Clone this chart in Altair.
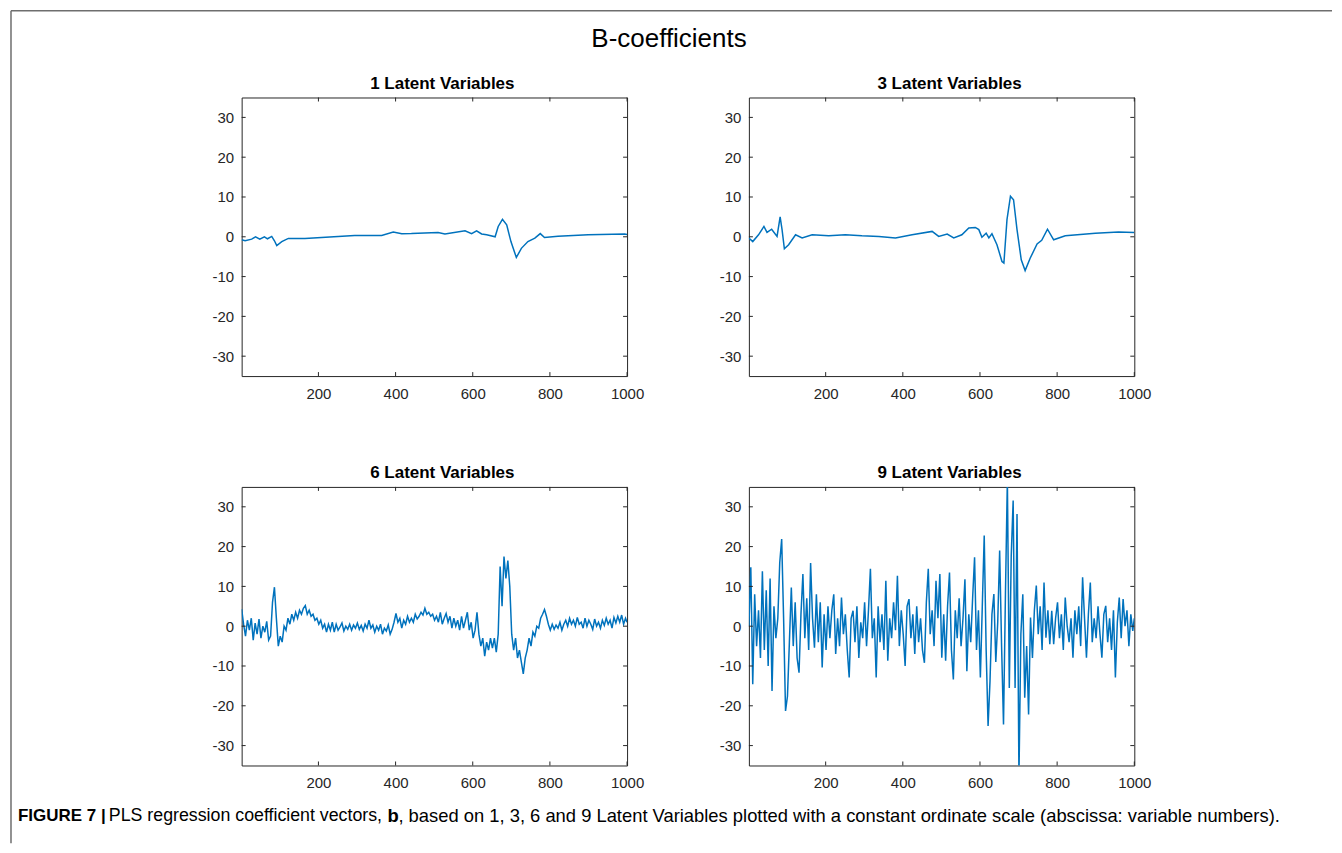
import altair as alt
import pandas as pd

# ---------------- data ----------------
lv1_x = [1, 10, 27, 37, 48, 60, 68, 79, 86, 92,
         105, 122, 165, 251, 294, 364, 394, 416, 441, 510,
         528, 580, 597, 610, 623, 636, 658, 666, 677, 688,
         699, 713, 726, 743, 761, 775, 786, 821, 899, 994, 1000]
lv1_y = [-0.75, -1.0, -0.6, 0.0, -0.6, 0.0, -0.5, 0.1, -1.0, -2.2,
         -1.2, -0.4, -0.4, 0.1, 0.35, 0.35, 1.2, 0.75, 0.8, 1.1,
         0.7, 1.5, 0.8, 1.5, 0.7, 0.5, 0.0, 2.6, 4.4, 3.0,
         -1.2, -5.2, -2.9, -1.2, -0.35, 0.8, -0.2, 0.15, 0.5, 0.7, 0.6]

lv3_x = [1, 11, 26, 40, 48, 60, 74, 82, 87, 93,
         104, 122, 139, 165, 208, 251, 294, 338, 381, 424,
         476, 493, 515, 532, 553, 571, 588, 597, 605, 616,
         623, 631, 644, 657, 662, 670, 679, 687, 696, 707,
         717, 730, 748, 760, 775, 791, 821, 899, 959, 1000]
lv3_y = [-0.3, -1.2, 0.5, 2.6, 1.1, 1.9, 0.1, 5.0, 1.8, -3.0,
         -2.0, 0.5, -0.3, 0.5, 0.25, 0.5, 0.25, 0.1, -0.3, 0.5,
         1.35, 0.1, 0.7, -0.3, 0.5, 2.2, 2.35, 1.8, -0.1, 0.9,
         -0.3, 0.75, -2.0, -6.2, -6.6, 4.3, 10.2, 9.3, 1.8, -5.8,
         -8.5, -5.4, -1.8, -0.9, 1.9, -0.75, 0.25, 0.9, 1.2, 1.1]

# variable numbers sampled every 5 for the noisy panels
dense_x = list(range(1, 1000, 5)) + [1000]

lv6_y = [4.3, 0.5, -2.5, 1.5, -1.0, 2.0, -3.5, 0.8, -2.0, 1.8,
         -3.0, 0.0, -1.5, 1.2, -3.5, -2.5, 6.0, 9.8, 2.0, -5.0,
         -2.5, -4.0, 0.0, -1.0, 2.0, 0.5, 3.0, 1.5, 3.5, 2.0,
         4.0, 3.0, 4.5, 5.2, 3.0, 4.0, 2.5, 3.0, 1.5, 2.0,
         0.5, 1.5, -0.5, 0.5, -1.5, 0.5, -1.0, 1.0, -1.5, 0.5,
         -1.0, -0.2, 0.8, -1.2, 0.0, -0.8, 0.5, -1.0, 0.3, -0.5,
         0.8, -0.8, 0.2, -1.2, 0.5, -0.5, 1.5, -0.5, 0.3, -1.5,
         0.0, -1.0, 0.5, -2.0, -0.5, -1.2, 0.3, -2.0, -0.8, 1.0,
         3.2, 1.0, 2.0, -0.5, 1.5, 0.5, 2.5, 1.0, 2.0, 1.0,
         3.0, 1.8, 2.5, 3.5, 2.8, 4.5, 3.0, 3.5, 2.5, 3.0,
         1.5, 2.5, 1.0, 3.5, 0.5, 2.0, 3.2, 1.0, 2.5, -0.5,
         2.0, 0.0, 1.5, -1.0, 2.5, -0.5, 1.5, 3.5, -1.0, 1.0,
         -3.0, -1.0, 3.5, -2.0, -5.0, -3.0, -7.5, -4.0, -6.0, -3.0,
         -5.5, -3.0, -6.5, -2.0, 15.0, 5.0, 17.5, 12.0, 16.5, 10.0,
         -2.0, -6.0, -3.0, -8.0, -6.0, -9.0, -12.0, -8.0, -6.0, -3.0,
         -5.0, -1.5, -2.5, 0.0, -0.5, 2.0, 3.0, 4.2, 2.5, 0.5,
         -1.0, 0.5, -0.8, 0.3, -0.5, 1.0, -1.0, 0.5, 1.5, 0.0,
         2.0, 0.5, 1.5, 0.0, 2.2, 0.5, 1.0, -0.5, 2.0, 0.0,
         1.5, 0.5, -0.8, 1.8, 0.0, 1.0, -0.5, 1.5, 0.2, 2.0,
         0.5, 1.5, -0.5, 2.2, 0.8, 2.5, 1.0, 2.8, 0.5, 2.0,
         1.0]

lv9_y = [0.0, 14.8, -14.6, 8.0, -5.0, 4.0, -8.0, 13.8, -6.0, 9.0,
         -10.0, 12.0, -16.3, 5.0, -3.0, 2.0, 16.0, 21.9, 2.0, -21.3,
         -17.6, -4.0, 9.7, -5.0, 6.0, -8.0, -11.7, 3.0, 13.1, -3.0,
         7.0, -6.0, 15.9, 2.0, -5.4, 8.0, -4.0, 6.0, -10.4, 3.0,
         -6.0, 5.0, -3.0, 4.0, 8.0, -7.0, 2.0, -5.0, 7.2, -2.0,
         3.0, -6.0, -12.9, 2.0, 3.9, -4.0, 5.0, -8.0, 1.0, -3.0,
         6.0, -5.0, 4.0, 14.4, -3.0, 2.0, -12.9, 5.0, -4.0, 3.0,
         -6.0, 11.4, -8.7, 2.0, -3.0, 6.0, -1.0, 12.7, -5.0, 4.0,
         -2.0, -10.0, 5.0, 6.8, -3.0, 3.0, -7.0, 5.0, -4.0, 2.0,
         -6.0, -9.2, 6.0, 14.4, -2.0, 4.0, -5.0, 11.4, 2.0, 13.1,
         -7.9, 3.0, -8.7, 5.0, 13.5, -6.0, -13.4, 4.0, -3.0, 7.0,
         -5.0, 2.0, 11.8, -11.3, 3.0, -4.0, 7.2, 17.3, -6.0, 4.0,
         -12.9, 5.0, 22.8, -6.0, -25.1, -13.8, 3.0, 8.1, -9.0, 1.0,
         19.0, -5.0, -24.7, 8.0, 37.0, -15.5, 17.7, 31.6, -15.5, 28.2,
         -38.0, -2.0, 8.0, -18.0, -5.0, -22.2, 2.2, -8.0, 4.0, 10.2,
         -2.0, 5.0, -6.0, 11.0, -2.9, 4.0, -4.5, 3.9, -4.5, 2.0,
         6.0, -3.0, 3.0, -6.0, 7.2, 0.0, -4.0, 2.0, -7.9, 4.0,
         -2.0, 5.0, -5.0, 12.3, 2.0, -7.9, 3.0, 11.0, -4.0, 2.0,
         -3.0, 5.0, -2.0, -7.9, 3.0, 5.1, -4.0, 2.0, -6.0, 4.0,
         -12.9, 1.0, 7.2, -3.0, 6.8, 0.0, 4.0, -5.0, 3.0, -1.2,
         2.0]

panel_titles = ["1 Latent Variables", "3 Latent Variables",
                "6 Latent Variables", "9 Latent Variables"]
x_ticks = [200, 400, 600, 800, 1000]
y_ticks = [-30, -20, -10, 0, 10, 20, 30]
x_domain = [1, 1000]
y_domain = [-35, 35]

main_title = "B-coefficients"
caption_parts = ["FIGURE 7 |", "PLS regression coefficient vectors,", "b",
                 ", based on 1, 3, 6 and 9 Latent Variables plotted with a constant "
                 "ordinate scale (abscissa: variable numbers)."]

# ---------------- styling ----------------
FONT = "Liberation Sans"
BLUE = "#0072BD"
AX = "#262626"
PW, PH = 386, 279
TICK = 4
LEFT = 111        # spacer column width (plot left edge = LEFT + column spacing)
COLGAP = 122
ROWGAP = 111
TOP = 89          # distance from canvas top to first row of plots

xscale = alt.Scale(domain=x_domain, nice=False, zero=False)
yscale = alt.Scale(domain=y_domain, nice=False, zero=False)
xaxis = alt.Axis(values=x_ticks, tickSize=0, domain=False, grid=False,
                 labelFontSize=15, labelFont=FONT, labelColor=AX,
                 labelPadding=10, labelFlush=False, title=None,
                 labelExpr="'' + datum.value")
yaxis = alt.Axis(values=y_ticks, tickSize=0, domain=False, grid=False,
                 labelFontSize=15, labelFont=FONT, labelColor=AX,
                 labelPadding=8, labelFlush=False, title=None,
                 labelExpr="'' + datum.value")

xt_df = pd.DataFrame({"t": x_ticks})
yt_df = pd.DataFrame({"t": y_ticks})
no_stroke = alt.ViewBackground(stroke="transparent")
one = pd.DataFrame({"a": [0]})


def panel(xs, ys, title):
    df = pd.DataFrame({"x": xs, "y": ys})
    line = alt.Chart(df).mark_line(color=BLUE, strokeWidth=1.5, clip=True).encode(
        x=alt.X("x:Q", scale=xscale, axis=xaxis),
        y=alt.Y("y:Q", scale=yscale, axis=yaxis))
    tx = alt.X("t:Q", scale=xscale, axis=xaxis)
    ty = alt.Y("t:Q", scale=yscale, axis=yaxis)
    rule = dict(color=AX, strokeWidth=1)
    bottom = alt.Chart(xt_df).mark_rule(**rule).encode(
        x=tx, y=alt.value(PH), y2=alt.value(PH - TICK))
    top = alt.Chart(xt_df).mark_rule(**rule).encode(
        x=tx, y=alt.value(0), y2=alt.value(TICK))
    left = alt.Chart(yt_df).mark_rule(**rule).encode(
        y=ty, x=alt.value(0), x2=alt.value(TICK))
    right = alt.Chart(yt_df).mark_rule(**rule).encode(
        y=ty, x=alt.value(PW), x2=alt.value(PW - TICK))
    return alt.layer(line, bottom, top, left, right).properties(
        width=PW, height=PH,
        title=alt.TitleParams(text=title, font=FONT, fontSize=17, fontWeight="bold",
                              color="black", frame="group", anchor="middle",
                              dx=8, offset=4))


pA = panel(lv1_x, lv1_y, panel_titles[0])
pB = panel(lv3_x, lv3_y, panel_titles[1])
pC = panel(dense_x, lv6_y, panel_titles[2])
pD = panel(dense_x, lv9_y, panel_titles[3])

# ---- spacer cell of row 1: figure title and frame (drawn above the cell) ----
FRAME = "#6e6e6e"
head_text = alt.Chart(one).mark_text(text=main_title, font=FONT, fontSize=26,
                                     color="black", align="center", baseline="middle").encode(
    x=alt.value(661), y=alt.value(30 - TOP))
frame_top = alt.Chart(one).mark_rule(color=FRAME, strokeWidth=1.5).encode(
    x=alt.value(2), x2=alt.value(1325), y=alt.value(2 - TOP))
frame_left = alt.Chart(one).mark_rule(color=FRAME, strokeWidth=1.5).encode(
    x=alt.value(2), y=alt.value(2 - TOP), y2=alt.value(836 - TOP))
edge = alt.Chart(one).mark_rule(strokeOpacity=0, strokeWidth=1).encode(
    x=alt.value(20), x2=alt.value(40), y=alt.value(0.5 - TOP))
sp1 = alt.layer(head_text, frame_top, frame_left, edge).properties(
    width=LEFT, height=PH, view=no_stroke)

# ---- spacer cell of row 2: caption (drawn below the cell) ----
row2_top = TOP + PH + ROWGAP
CAP_Y = 809 - row2_top
cap_xs = [9, 100, 379, 390]
cap_bold = [True, False, True, False]
cap_fs = [17, 17.8, 18.4, 18.4]
cap_layers = []
for txt, cx, b, fs in zip(caption_parts, cap_xs, cap_bold, cap_fs):
    cap_layers.append(alt.Chart(one).mark_text(
        text=txt, font=FONT, fontSize=fs, fontWeight="bold" if b else "normal",
        color="black", align="left", baseline="middle").encode(
        x=alt.value(cx), y=alt.value(CAP_Y)))
sp2 = alt.layer(*cap_layers).properties(width=LEFT, height=PH, view=no_stroke)

chart = alt.concat(sp1, pA, pB, sp2, pC, pD, columns=3,
                   spacing={"row": ROWGAP, "column": COLGAP},
                   bounds="flush").properties(
    padding=0, background="white"
).configure(font=FONT, view=alt.ViewConfig(stroke=AX, strokeWidth=1))

chart.save("out.html", embed_options={"renderer": "svg", "actions": False})
